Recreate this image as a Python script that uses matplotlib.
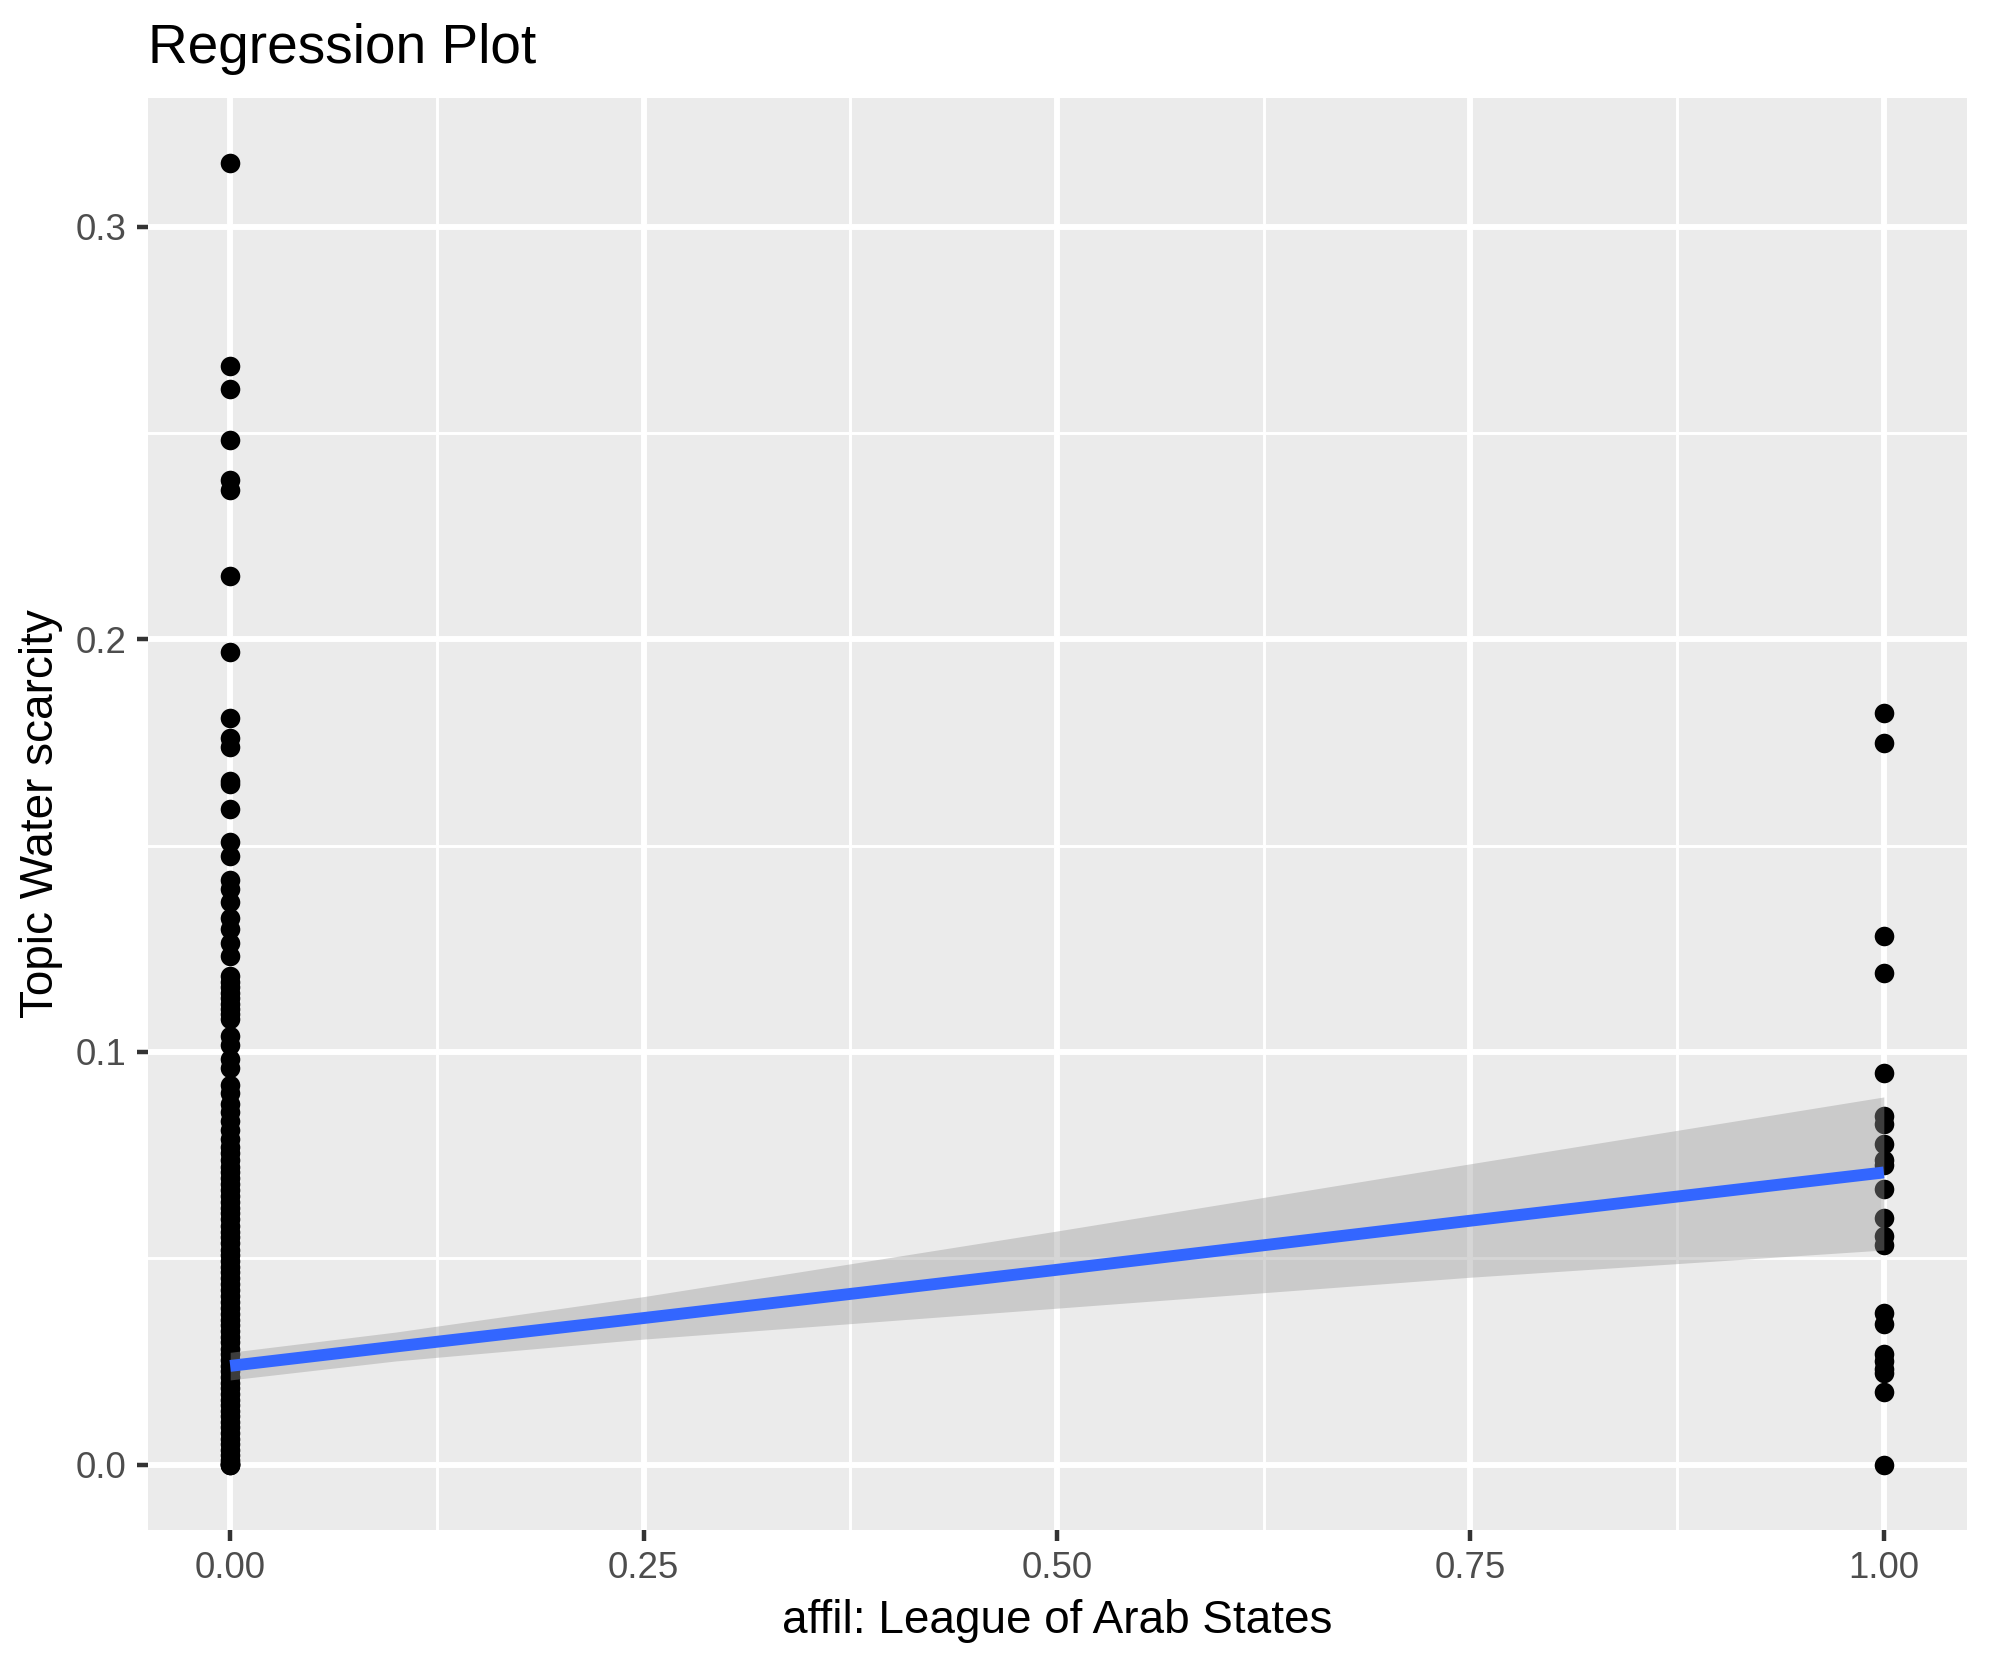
import matplotlib
matplotlib.use("Agg")
import matplotlib.pyplot as plt

plt.rcParams['font.family'] = ['Liberation Sans', 'DejaVu Sans']

# ---- data ----
# points with affil = 1
y_group1 = [0.1822, 0.1750, 0.1280, 0.1191, 0.0949, 0.0845, 0.0825, 0.0776,
            0.0739, 0.0726, 0.0667, 0.0597, 0.0553, 0.0531, 0.0368, 0.0340,
            0.0269, 0.0250, 0.0232, 0.0222, 0.0176, 0.0000]

# points with affil = 0 : distinct upper points
y_group0_upper = [0.3156, 0.2662, 0.2606, 0.2484, 0.2386, 0.2362, 0.2153, 0.1969,
                  0.1810, 0.1761, 0.1740, 0.1657, 0.1650, 0.1588, 0.1509, 0.1476,
                  0.1417, 0.1395, 0.1363, 0.1325, 0.1298, 0.1265, 0.1233, 0.1184,
                  0.1170, 0.1157, 0.1143, 0.1130, 0.1116, 0.1103, 0.1092, 0.1081,
                  0.1038, 0.1016, 0.0984, 0.0962, 0.0919, 0.0900, 0.0875, 0.0854,
                  0.0832, 0.0810, 0.0789, 0.0770, 0.0756, 0.0739]
# points with affil = 0 : dense lower block
y_group0_lower = [0.0722, 0.0708, 0.0694, 0.0681, 0.0665, 0.0652, 0.0637, 0.0621,
                  0.0609, 0.0594, 0.0578, 0.0563, 0.0551, 0.0536, 0.0520, 0.0507,
                  0.0493, 0.0478, 0.0466, 0.0451, 0.0437, 0.0422, 0.0409, 0.0394,
                  0.0380, 0.0366, 0.0351, 0.0338, 0.0323, 0.0309, 0.0296, 0.0281,
                  0.0268, 0.0253, 0.0240, 0.0226, 0.0212, 0.0198, 0.0185, 0.0171,
                  0.0157, 0.0144, 0.0130, 0.0117, 0.0103, 0.0090, 0.0076, 0.0063,
                  0.0049, 0.0036, 0.0022, 0.0011, 0.0003, 0.0000, 0.0000, 0.0001]

# fitted linear model and its 95% band
fit_x = [0.0, 0.10, 0.25, 0.50, 0.75, 1.00]
fit_y = [0.0239, 0.0286, 0.0355, 0.0472, 0.0591, 0.0708]
fit_lo = [0.0205, 0.0251, 0.0304, 0.0379, 0.0454, 0.0520]
fit_hi = [0.0272, 0.0321, 0.0407, 0.0566, 0.0729, 0.0891]

x_ticks = [0.0, 0.25, 0.5, 0.75, 1.0]
x_ticklabels = ["0.00", "0.25", "0.50", "0.75", "1.00"]
y_ticks = [0.0, 0.1, 0.2, 0.3]
y_ticklabels = ["0.0", "0.1", "0.2", "0.3"]

title = "Regression Plot"
xlabel = "affil: League of Arab States"
ylabel = "Topic Water scarcity"

# ---- figure ----
W, H = 1990, 1665
DPI = 300
fig = plt.figure(figsize=(W / DPI, H / DPI), dpi=DPI)
left, right = 147.5 / W, 1966.5 / W
bottom, top = 1 - 1529.6 / H, 1 - 97.5 / H
ax = fig.add_axes([left, bottom, right - left, top - bottom])

ax.set_facecolor("#EBEBEB")
for s in ax.spines.values():
    s.set_visible(False)

y0 = y_group0_upper + y_group0_lower
x0 = [0.0] * len(y0)
x1 = [1.0] * len(y_group1)
ally = y0 + y_group1
ymin, ymax = min(ally), max(ally)
rng = ymax - ymin
ax.set_ylim(ymin - 0.05 * rng, ymax + 0.05 * rng)
ax.set_xlim(-0.05, 1.05)

# grid and ticks
ax.set_xticks(x_ticks)
ax.set_xticklabels(x_ticklabels)
ax.set_yticks(y_ticks)
ax.set_yticklabels(y_ticklabels)
ax.set_xticks([0.125, 0.375, 0.625, 0.875], minor=True)
ax.set_yticks([0.05, 0.15, 0.25], minor=True)
ax.grid(which="major", color="white", linewidth=1.42)
ax.grid(which="minor", color="white", linewidth=0.71)
ax.set_axisbelow(True)
ax.tick_params(which="minor", length=0)
ax.tick_params(which="major", length=2.75, width=1.07, color="#333333",
               labelsize=8.8, labelcolor="#4D4D4D", pad=2.4)

# points
ax.plot(x0, y0, "o", color="black", markersize=4.7, markeredgewidth=0, zorder=3)
ax.plot(x1, y_group1, "o", color="black", markersize=4.7, markeredgewidth=0, zorder=3)

# band + line
ax.fill_between(fit_x, fit_lo, fit_hi, color="#999999", alpha=0.4, linewidth=0, zorder=4)
ax.plot(fit_x, fit_y, color="#3366FF", linewidth=2.85, solid_capstyle="butt", zorder=5)

ax.set_xlabel(xlabel, fontsize=11, color="black", labelpad=3.0)
ax.set_ylabel(ylabel, fontsize=11, color="black", labelpad=3.0)
ax.set_title(title, loc="left", fontsize=13.2, color="black", pad=8.3)

fig.savefig("out.png", dpi=DPI, facecolor="white")
